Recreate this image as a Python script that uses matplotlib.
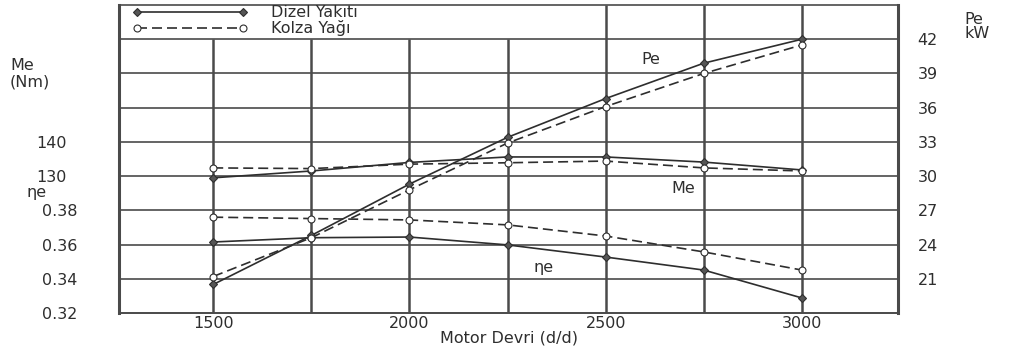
import numpy as np
import matplotlib
matplotlib.use("Agg")
import matplotlib.pyplot as plt

plt.rcParams["font.family"] = ["DejaVu Sans"]
plt.rcParams["font.size"] = 11.5

# Veriler
rpm = [1500, 1750, 2000, 2250, 2500, 2750, 3000]
pe_dizel = [20.5, 24.8, 29.3, 33.4, 36.8, 39.9, 42.0]
pe_kolza = [21.2, 24.6, 28.8, 32.9, 36.1, 39.0, 41.5]
me_dizel = [129.5, 131.5, 134.0, 135.6, 135.6, 134.1, 131.8]
me_kolza = [132.4, 132.2, 133.5, 133.9, 134.4, 132.4, 131.5]
eta_dizel = [0.3615, 0.3640, 0.3644, 0.3598, 0.3527, 0.3451, 0.3288]
eta_kolza = [0.3760, 0.3752, 0.3744, 0.3715, 0.3650, 0.3557, 0.3451]

xticks = [1500, 2000, 2500, 3000]
eta_ticks = [0.32, 0.34, 0.36, 0.38]
me_ticks = [130, 140]
pe_ticks = [21, 24, 27, 30, 33, 36, 39, 42]
labels = ["Dizel Yakıtı", "Kolza Yağı"]

ink = "#2e2e2e"
gridc = "#4a4a4a"

fig = plt.figure(figsize=(10.27, 3.5), dpi=100)
ax = fig.add_axes([0.1159, 0.1057, 0.7585, 0.88])
ax_me = ax.twinx()
ax_pe = ax.twinx()

ax.set_xlim(1260, 3245)
ax.set_ylim(0.32, 0.50)
ax_me.set_ylim(90, 180)
ax_pe.set_ylim(18, 45)

# ızgara
for yv in np.arange(0.34, 0.49, 0.02):
    ax.axhline(yv, color=gridc, lw=1.2, zorder=1)
for xv in range(1500, 3001, 250):
    top = 0.50 if xv >= 2500 else 0.48
    ax.vlines(xv, 0.32, top, color=gridc, lw=1.8, zorder=1)

for a in (ax, ax_me, ax_pe):
    for s in a.spines.values():
        s.set_visible(False)
for side in ("left", "right", "top", "bottom"):
    ax.spines[side].set_visible(True)
    ax.spines[side].set_color(gridc)
ax.spines["left"].set_linewidth(2.2)
ax.spines["right"].set_linewidth(2.2)
ax.spines["top"].set_linewidth(1.2)
ax.spines["bottom"].set_linewidth(1.4)

mk_d = dict(marker="D", markersize=4.5, markerfacecolor="#555555", markeredgecolor=ink, markeredgewidth=0.8)
mk_k = dict(marker="o", markersize=5, markerfacecolor="white", markeredgecolor=ink, markeredgewidth=0.8)

l1, = ax_pe.plot(rpm, pe_dizel, "-", color=ink, lw=1.2, label=labels[0], zorder=3, **mk_d)
l2, = ax_pe.plot(rpm, pe_kolza, "--", color=ink, lw=1.2, dashes=(6, 3), label=labels[1], zorder=3, **mk_k)
ax_me.plot(rpm, me_dizel, "-", color=ink, lw=1.2, zorder=3, **mk_d)
ax_me.plot(rpm, me_kolza, "--", color=ink, lw=1.2, dashes=(6, 3), zorder=3, **mk_k)
ax.plot(rpm, eta_dizel, "-", color=ink, lw=1.2, zorder=3, **mk_d)
ax.plot(rpm, eta_kolza, "--", color=ink, lw=1.2, dashes=(6, 3), zorder=3, **mk_k)

# eksenler
ax.set_xticks(xticks)
ax.tick_params(axis="x", length=0, pad=2, labelcolor=ink)
ax.set_xlabel("Motor Devri (d/d)", color=ink, labelpad=0)

ax.set_yticks(eta_ticks)
ax.set_yticklabels([f"{v:.2f}" for v in eta_ticks])
ax.tick_params(axis="y", length=0, pad=30, labelcolor=ink)

ax_me.yaxis.tick_left()
ax_me.set_yticks(me_ticks)
ax_me.tick_params(axis="y", length=0, pad=38, labelcolor=ink)

ax_pe.set_yticks(pe_ticks)
ax_pe.tick_params(axis="y", length=0, pad=14, labelcolor=ink)

# eksen başlıkları
fig.text(10 / 1027, 1 - 65 / 350, "Me", color=ink, va="center")
fig.text(10 / 1027, 1 - 82 / 350, "(Nm)", color=ink, va="center")
fig.text(26 / 1027, 1 - 192 / 350, "ηe", color=ink, va="center")
fig.text(964 / 1027, 1 - 20 / 350, "Pe", color=ink, va="center")
fig.text(964 / 1027, 1 - 34 / 350, "kW", color=ink, va="center")

# eğri etiketleri
ax_pe.text(2590, 40.2, "Pe", color=ink, va="center", zorder=4)
ax_me.text(2668, 126.5, "Me", color=ink, va="center", zorder=4,
           bbox=dict(facecolor="white", edgecolor="none", pad=0.5))
ax.text(2316, 0.3465, "ηe", color=ink, va="center", zorder=4)

ax_pe.legend(handles=[l1, l2], loc="upper left", bbox_to_anchor=(0.005, 1.03),
             frameon=False, handlelength=7.2, handletextpad=1.5, labelspacing=0.0,
             numpoints=2, borderaxespad=0.2, labelcolor=ink)

fig.savefig("out.png", dpi=100)
